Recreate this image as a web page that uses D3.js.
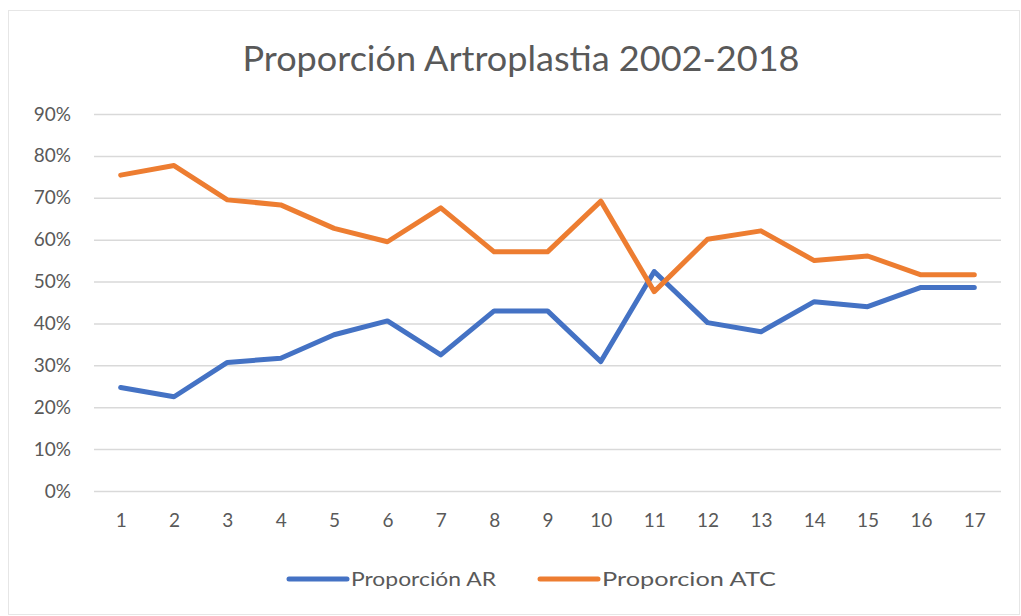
<!DOCTYPE html>
<html>
<head>
<meta charset="utf-8">
<script src="https://cdn.jsdelivr.net/npm/d3@7"></script>
<style>
  body { margin: 0; background: #fff; }
  text { font-family: Lato, "Open Sans", sans-serif; fill: #595959; }
</style>
</head>
<body>
<svg width="1021" height="616"></svg>
<script>
'use strict';

const categories = d3.range(1, 18).map(String);
const proporcionAR = [24.7, 22.5, 30.7, 31.7, 37.3, 40.6, 32.5, 43.0, 43.0, 30.9, 52.4, 40.2, 38.0, 45.2, 44.0, 48.6, 48.6];
const proporcionATC = [75.4, 77.7, 69.5, 68.3, 62.7, 59.5, 67.6, 57.1, 57.1, 69.2, 47.6, 60.1, 62.1, 55.0, 56.1, 51.6, 51.6];
const yTicks = [0, 10, 20, 30, 40, 50, 60, 70, 80, 90];

const series = [
    { name: "Proporción AR", values: proporcionAR, color: "#4472c4" },
    { name: "Proporcion ATC", values: proporcionATC, color: "#ed7d31" }
];

const svg = d3.select("svg"),
    margin = { left: 94, right: 20, top: 114, bottom: 125 },
    width = +svg.attr("width"),
    height = +svg.attr("height");

// chart frame
svg.append("rect")
    .attr("x", 8.5).attr("y", 10.5)
    .attr("width", width - 10).attr("height", height - 12)
    .attr("fill", "none")
    .attr("stroke", "#e6e6e6");

const x = d3.scalePoint()
    .domain(categories)
    .range([margin.left, width - margin.right])
    .padding(0.5);

const y = d3.scaleLinear()
    .domain([0, 90])
    .range([height - margin.bottom, margin.top]);

svg.append("text")
    .attr("x", 521).attr("y", 71)
    .attr("text-anchor", "middle")
    .style("font-size", "34px")
    .attr("textLength", 557)
    .attr("lengthAdjust", "spacingAndGlyphs")
    .text("Proporción Artroplastia 2002-2018");

// horizontal gridlines + y labels
const yAxis = svg.append("g")
    .attr("transform", `translate(${margin.left},0)`)
    .call(d3.axisLeft(y).tickValues(yTicks)
        .tickSize(-(width - margin.left - margin.right))
        .tickPadding(23)
        .tickFormat(d => d + "%"));
yAxis.select(".domain").remove();
yAxis.selectAll(".tick line").attr("stroke", "#d9d9d9").attr("stroke-width", 1.5);
yAxis.selectAll(".tick text").style("font-size", "19px").style("font-family", "Lato, sans-serif").attr("fill", "#595959");

// x labels
const xAxis = svg.append("g")
    .attr("transform", `translate(0,${height - margin.bottom})`)
    .call(d3.axisBottom(x).tickSize(0).tickPadding(23));
xAxis.select(".domain").remove();
xAxis.selectAll(".tick text").style("font-size", "19px").style("font-family", "Lato, sans-serif").attr("fill", "#595959");

const line = d3.line()
    .x((d, i) => x(categories[i]))
    .y(d => y(d));

svg.append("g")
    .selectAll("path")
    .data(series)
    .enter().append("path")
    .attr("d", d => line(d.values))
    .attr("fill", "none")
    .attr("stroke", d => d.color)
    .attr("stroke-width", 5)
    .attr("stroke-linejoin", "round")
    .attr("stroke-linecap", "round");

// legend
const legendX = [289, 540];
const legendW = [145, 174];
const legend = svg.append("g")
    .selectAll("g")
    .data(series)
    .enter().append("g")
    .attr("transform", (d, i) => `translate(${legendX[i]},579)`);

legend.append("line")
    .attr("x1", 0).attr("x2", 58)
    .attr("stroke", d => d.color)
    .attr("stroke-width", 5)
    .attr("stroke-linecap", "round");

legend.append("text")
    .attr("x", 62).attr("y", 7)
    .style("font-size", "20px")
    .attr("textLength", (d, i) => legendW[i])
    .attr("lengthAdjust", "spacingAndGlyphs")
    .text(d => d.name);
</script>
</body>
</html>
